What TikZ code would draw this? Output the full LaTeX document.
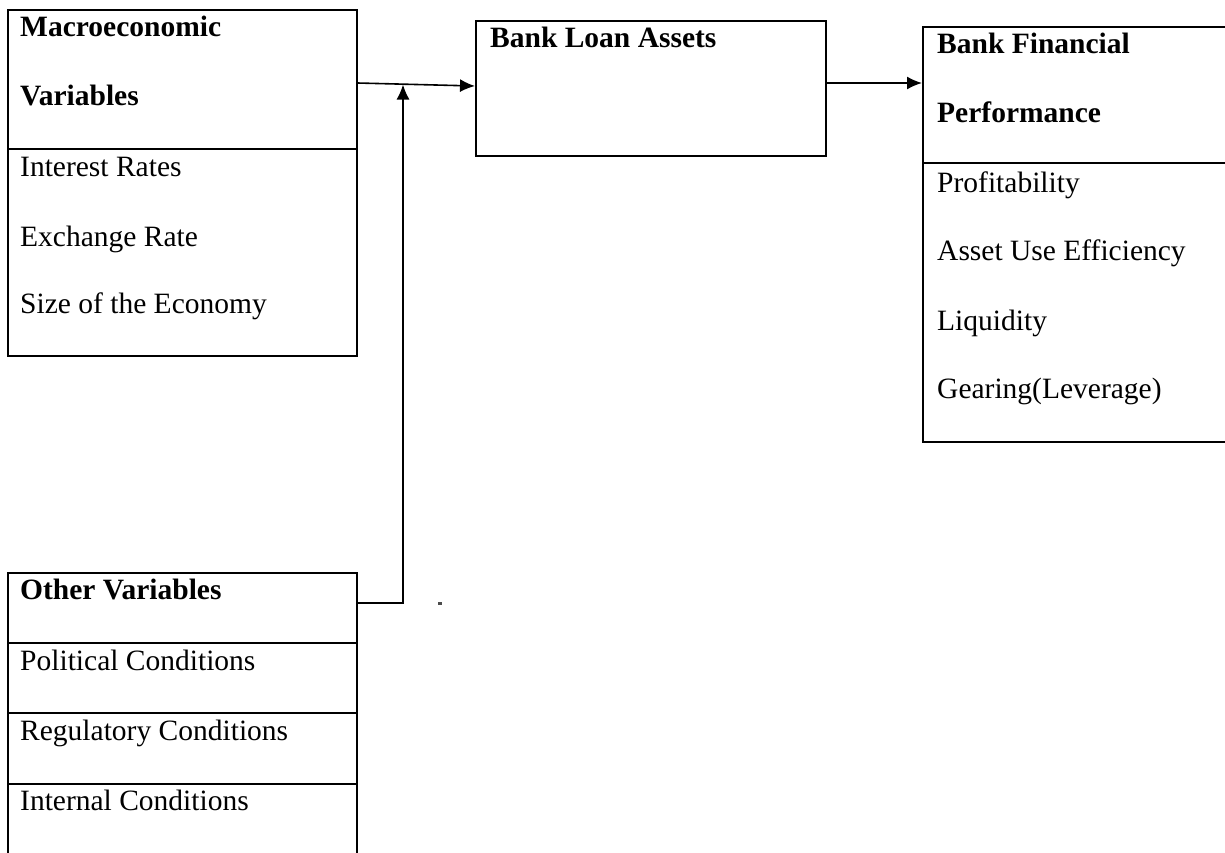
\documentclass[tikz,border=0pt]{standalone}
\usepackage{fontspec}
\setmainfont{Liberation Serif}
\usetikzlibrary{arrows.meta,calc}

\begin{document}
\begin{tikzpicture}[
    x=1pt, y=-1pt,
    box/.style={draw=black, line width=1.6pt, anchor=north west, inner sep=0, minimum width=#1},
    cell/.style={anchor=base west, inner sep=0, font=\fontsize{29.5}{34}\selectfont},
    head/.style={cell, font=\fontsize{29.5}{34}\selectfont\bfseries},
    link/.style={draw=black, line width=1.6pt, ->, >={Latex[length=15pt,width=13pt]}}
  ]
    \useasboundingbox (0,0) rectangle (1225,852);
    \clip (0,0) rectangle (1225,852);

    % boxes
    \node[box=349, minimum height=346] (macro) at (7,9) {};
    \node[box=349, minimum height=300] (other) at (7,572) {};
    \node[box=350, minimum height=135] (loan) at (475,20) {};
    \node[box=320, minimum height=415] (perf) at (922,26) {};

    \draw[line width=1.6pt] (macro.west |- 0,149) -- (macro.east |- 0,149);
    \draw[line width=1.6pt] (perf.west |- 0,163) -- (perf.east |- 0,163);
    \foreach \y in {643,713,784}{
      \draw[line width=1.6pt] (other.west |- 0,\y) -- (other.east |- 0,\y);
    }

    % texts
    \node[head] (macroA) at (20,36) {Macroeconomic};
    \node[head] (macroB) at (20,105) {Variables};
    \node[cell] (rates) at (20,176) {Interest Rates};
    \node[cell] (exch) at (20,246) {Exchange Rate};
    \node[cell] (size) at (20,313) {Size of the Economy};

    \node[head] (loanA) at (490,47) {Bank Loan Assets};

    \node[head] (perfA) at (937,53) {Bank Financial};
    \node[head] (perfB) at (937,122) {Performance};
    \node[cell] (profit) at (937,192) {Profitability};
    \node[cell] (effic) at (937,260) {Asset Use Efficiency};
    \node[cell] (liq) at (937,330) {Liquidity};
    \node[cell] (gear) at (937,398) {Gearing(Leverage)};

    \node[head] (otherA) at (20,599) {Other Variables};
    \node[cell] (polit) at (20,670) {Political Conditions};
    \node[cell] (regul) at (20,740) {Regulatory Conditions};
    \node[cell] (intern) at (20,810) {Internal Conditions};

    % connectors
    \coordinate (join) at (403,84.5);
    \draw[link] (macro.east |- 0,83) -- (loan.west |- 0,86);
    \draw[link] (loan.east |- 0,83) -- (perf.west |- 0,83);
    \draw[link] (other.east |- 0,603) -| (join);

    \fill[black!70] (438,602) rectangle (442,604.5);

  \end{tikzpicture}
\end{document}
